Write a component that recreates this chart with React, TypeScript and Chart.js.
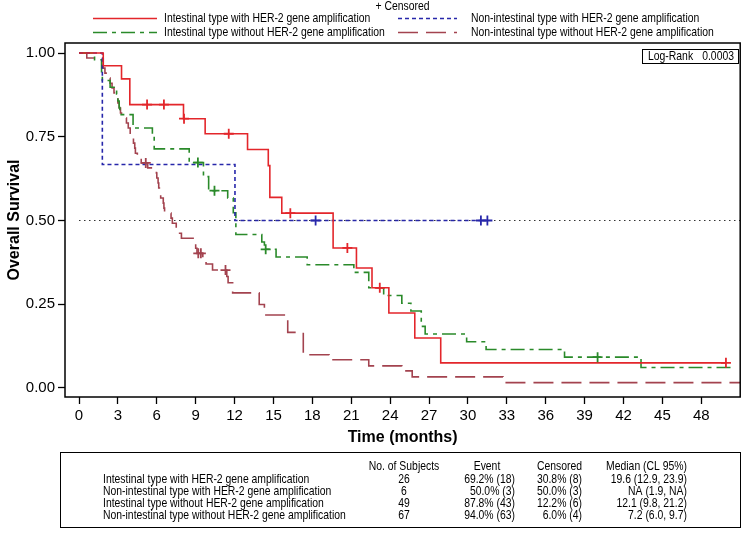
import React, { useEffect, useRef } from 'react';
import { Chart, registerables } from 'chart.js';
Chart.register(...registerables);

// ---------- data ----------
const seriesLabels = [
  'Intestinal type with HER-2 gene amplification',
  'Non-intestinal type with HER-2 gene amplification',
  'Intestinal type without HER-2 gene amplification',
  'Non-intestinal type without HER-2 gene amplification',
];
const seriesColors = ['#e3262b', '#2727aa', '#2a8a2a', '#a3434f'];
const seriesDash: number[][] = [[], [4, 3], [14, 5, 4, 5], [20, 8]];

const xTicks = [0, 3, 6, 9, 12, 15, 18, 21, 24, 27, 30, 33, 36, 39, 42, 45, 48];
const yTicks = [0, 0.25, 0.5, 0.75, 1];
const xMin = -1.08;
const xMax = 51;
const yMin = -0.027;
const yMax = 1.03;
const refLineValue = 0.5;

// Intestinal type with HER-2 amplification
const redTimes = [0, 1.87, 3.28, 3.92, 8.06, 9.73, 13.0, 14.6, 14.72, 15.64, 19.6, 21.4, 22.6, 23.9, 25.9, 27.9, 49.9];
const redSurv = [1, 0.962, 0.923, 0.846, 0.804, 0.759, 0.712, 0.664, 0.569, 0.522, 0.418, 0.358, 0.299, 0.224, 0.149, 0.075, 0.075];
const redCensor = [5.25, 6.55, 8.1, 11.55, 16.3, 20.7, 23.2, 49.9];

// Non-intestinal type with HER-2 amplification
const blueTimes = [0, 1.8, 12.03, 31.5];
const blueSurv = [1, 0.667, 0.5, 0.5];
const blueCensor = [18.25, 31.0, 31.5];

// Intestinal type without HER-2 amplification
const greenTimes = [0, 1.2, 1.74, 1.8, 2.4, 2.9, 3.0, 3.1, 3.15, 4.17, 5.66, 5.8, 8.5, 9.6, 10.0, 11.47, 11.9, 12.1, 14.1, 14.3, 15.2, 17.6, 21.2, 22.35, 23.5, 24.9, 25.6, 26.4, 26.7, 29.9, 31.4, 37.45, 43.35, 50.5];
const greenSurv = [1, 0.98, 0.939, 0.918, 0.898, 0.878, 0.857, 0.837, 0.816, 0.776, 0.755, 0.714, 0.673, 0.631, 0.589, 0.567, 0.523, 0.458, 0.436, 0.414, 0.391, 0.368, 0.345, 0.299, 0.276, 0.253, 0.23, 0.184, 0.161, 0.138, 0.115, 0.092, 0.061, 0.061];
const greenCensor = [9.17, 10.45, 14.4, 40.0];

// Non-intestinal type without HER-2 amplification
const brownTimes = [0, 0.6, 1.87, 2.0, 2.25, 2.4, 2.55, 2.7, 2.9, 3.0, 3.1, 3.2, 3.28, 3.66, 3.8, 3.95, 4.1, 4.2, 4.3, 4.35, 4.5, 4.8, 5.3, 5.97, 6.0, 6.1, 6.15, 6.2, 6.3, 6.5, 6.55, 6.6, 7.1, 7.2, 7.5, 7.55, 7.9, 8.8, 9.0, 9.1, 9.55, 9.8, 10.3, 11.4, 11.5, 11.85, 13.9, 14.3, 16.1, 17.3, 19.3, 22.35, 24.9, 25.7, 32.7, 51];
const brownSurv = [1, 0.985, 0.955, 0.94, 0.925, 0.91, 0.896, 0.881, 0.866, 0.851, 0.836, 0.821, 0.806, 0.791, 0.776, 0.761, 0.746, 0.731, 0.716, 0.701, 0.687, 0.672, 0.657, 0.642, 0.627, 0.612, 0.597, 0.582, 0.567, 0.552, 0.537, 0.522, 0.507, 0.492, 0.477, 0.462, 0.447, 0.432, 0.417, 0.402, 0.386, 0.37, 0.352, 0.333, 0.314, 0.284, 0.249, 0.218, 0.166, 0.099, 0.084, 0.066, 0.051, 0.033, 0.016, 0.016];
const brownCensor = [5.15, 9.2, 9.4, 11.3];

const logRankLabel = 'Log-Rank';
const logRankP = '0.0003';

const tableHeaders = ['No. of Subjects', 'Event', 'Censored', 'Median (CL 95%)'];
const tableSubjects = ['26', '6', '49', '67'];
const tableEvent = ['69.2% (18)', '50.0% (3)', '87.8% (43)', '94.0% (63)'];
const tableCensored = ['30.8% (8)', '50.0% (3)', '12.2% (6)', '6.0% (4)'];
const tableMedian = ['19.6 (12.9, 23.9)', 'NA (1.9, NA)', '12.1 (9.8, 21.2)', '7.2 (6.0, 9.7)'];

// ---------- helpers ----------
const FONT = '"Liberation Sans", Arial, Helvetica, sans-serif';

function survAt(times: number[], surv: number[], t: number) {
  let s = surv[0];
  for (let i = 0; i < times.length; i++) if (times[i] <= t) s = surv[i];
  return s;
}

function narrowText(ctx: CanvasRenderingContext2D, text: string, x: number, y: number, align: CanvasTextAlign, size = 13) {
  ctx.save();
  ctx.font = `${size}px ${FONT}`;
  ctx.fillStyle = '#000';
  ctx.textBaseline = 'middle';
  ctx.textAlign = align;
  ctx.translate(x, y);
  ctx.scale(0.8, 1);
  ctx.fillText(text, 0, 0);
  ctx.restore();
}

const decorPlugin = {
  id: 'decor',
  afterDraw(chart: any) {
    const ctx: CanvasRenderingContext2D = chart.ctx;
    const { left, right, top, bottom } = chart.chartArea;
    ctx.save();
    // frame
    ctx.strokeStyle = '#000';
    ctx.lineWidth = 1.5;
    ctx.setLineDash([]);
    ctx.strokeRect(left, top, right - left, bottom - top);

    // axis titles
    ctx.fillStyle = '#000';
    ctx.font = `bold 16px ${FONT}`;
    ctx.textAlign = 'center';
    ctx.textBaseline = 'middle';
    ctx.fillText('Time (months)', (left + right) / 2, 438);
    ctx.save();
    ctx.translate(15, (top + bottom) / 2);
    ctx.rotate(-Math.PI / 2);
    ctx.fillText('Overall Survival', 0, 0);
    ctx.restore();

    // legend
    narrowText(ctx, '+ Censored', (left + right) / 2, 6, 'center');
    const rows = [
      { y: 18, x0: 93, x1: 157, tx: 164, i: 0 },
      { y: 18, x0: 398, x1: 457, tx: 471, i: 1 },
      { y: 32, x0: 93, x1: 157, tx: 164, i: 2 },
      { y: 32, x0: 398, x1: 457, tx: 471, i: 3 },
    ];
    rows.forEach((r) => {
      ctx.save();
      ctx.strokeStyle = seriesColors[r.i];
      ctx.lineWidth = 1.5;
      ctx.setLineDash(seriesDash[r.i]);
      ctx.beginPath();
      ctx.moveTo(r.x0, r.y + 0.5);
      ctx.lineTo(r.x1, r.y + 0.5);
      ctx.stroke();
      ctx.restore();
      narrowText(ctx, seriesLabels[r.i], r.tx, r.y, 'left');
    });

    // log-rank box
    ctx.strokeStyle = '#000';
    ctx.lineWidth = 1;
    ctx.setLineDash([]);
    ctx.strokeRect(642.5, 49.5, 96, 14);
    narrowText(ctx, logRankLabel, 648, 56.5, 'left');
    narrowText(ctx, logRankP, 734, 56.5, 'right');

    // table
    ctx.strokeRect(60.5, 452.5, 680, 75);
    const hy = 466;
    narrowText(ctx, tableHeaders[0], 404, hy, 'center');
    narrowText(ctx, tableHeaders[1], 487, hy, 'center');
    narrowText(ctx, tableHeaders[2], 582, hy, 'right');
    narrowText(ctx, tableHeaders[3], 687, hy, 'right');
    const rowY = [479, 491, 503, 515];
    seriesLabels.forEach((lab, i) => {
      const y = rowY[i];
      narrowText(ctx, lab, 103, y, 'left');
      narrowText(ctx, tableSubjects[i], 404, y, 'center');
      narrowText(ctx, tableEvent[i], 515, y, 'right');
      narrowText(ctx, tableCensored[i], 582, y, 'right');
      narrowText(ctx, tableMedian[i], 687, y, 'right');
    });
    ctx.restore();
  },
};

export default function App() {
  const ref = useRef<HTMLCanvasElement>(null);
  useEffect(() => {
    document.body.style.margin = '0';
    const canvas = ref.current!;
    const curves = [
      [redTimes, redSurv, redCensor],
      [blueTimes, blueSurv, blueCensor],
      [greenTimes, greenSurv, greenCensor],
      [brownTimes, brownSurv, brownCensor],
    ];
    const lineSets: any[] = curves.map(([t, s], i) => ({
      label: seriesLabels[i],
      data: (t as number[]).map((v, k) => ({ x: v, y: (s as number[])[k] })),
      borderColor: seriesColors[i],
      borderWidth: 1.6,
      borderDash: seriesDash[i],
      stepped: 'before',
      pointRadius: 0,
      fill: false,
      order: 10 + i,
    }));
    const censorSets: any[] = curves.map(([t, s, c], i) => ({
      label: seriesLabels[i] + ' censored',
      data: (c as number[]).map((v) => ({ x: v, y: survAt(t as number[], s as number[], v) })),
      showLine: false,
      pointStyle: 'cross',
      pointRadius: 5,
      pointBorderWidth: 1.8,
      borderColor: seriesColors[i],
      backgroundColor: seriesColors[i],
      order: 1 + i,
    }));
    const refSet = {
      label: 'median',
      data: [{ x: 0, y: refLineValue }, { x: xMax, y: refLineValue }],
      borderColor: '#333',
      borderWidth: 1.2,
      borderDash: [1.5, 3.5],
      pointRadius: 0,
      order: 30,
    };
    const chart = new Chart(canvas, {
      type: 'line',
      data: { datasets: [refSet, ...lineSets, ...censorSets] },
      options: {
        animation: false,
        responsive: false,
        devicePixelRatio: 1,
        layout: { padding: { top: 43, right: 4, left: 0, bottom: 57 } },
        plugins: { legend: { display: false }, tooltip: { enabled: false } },
        scales: {
          x: {
            type: 'linear',
            min: xMin,
            max: xMax,
            afterBuildTicks: (s: any) => { s.ticks = xTicks.map((v) => ({ value: v })); },
            afterFit: (s: any) => { s.height = 80; },
            ticks: { autoSkip: false, maxRotation: 0, color: '#000', padding: 3, font: { family: FONT, size: 15 } },
            grid: { drawOnChartArea: false, drawTicks: true, tickLength: 7, tickColor: '#000', tickWidth: 1.3 },
            border: { display: false },
          },
          y: {
            type: 'linear',
            min: yMin,
            max: yMax,
            afterBuildTicks: (s: any) => { s.ticks = yTicks.map((v) => ({ value: v })); },
            afterFit: (s: any) => { s.width = 65; },
            ticks: { color: '#000', padding: 3, font: { family: FONT, size: 15 }, callback: (v: any) => Number(v).toFixed(2) },
            grid: { drawOnChartArea: false, drawTicks: true, tickLength: 7, tickColor: '#000', tickWidth: 1.3 },
            border: { display: false },
          },
        },
      } as any,
      plugins: [decorPlugin],
    });
    return () => chart.destroy();
  }, []);
  return <canvas ref={ref} width={747} height={534} style={{ display: 'block' }} />;
}
